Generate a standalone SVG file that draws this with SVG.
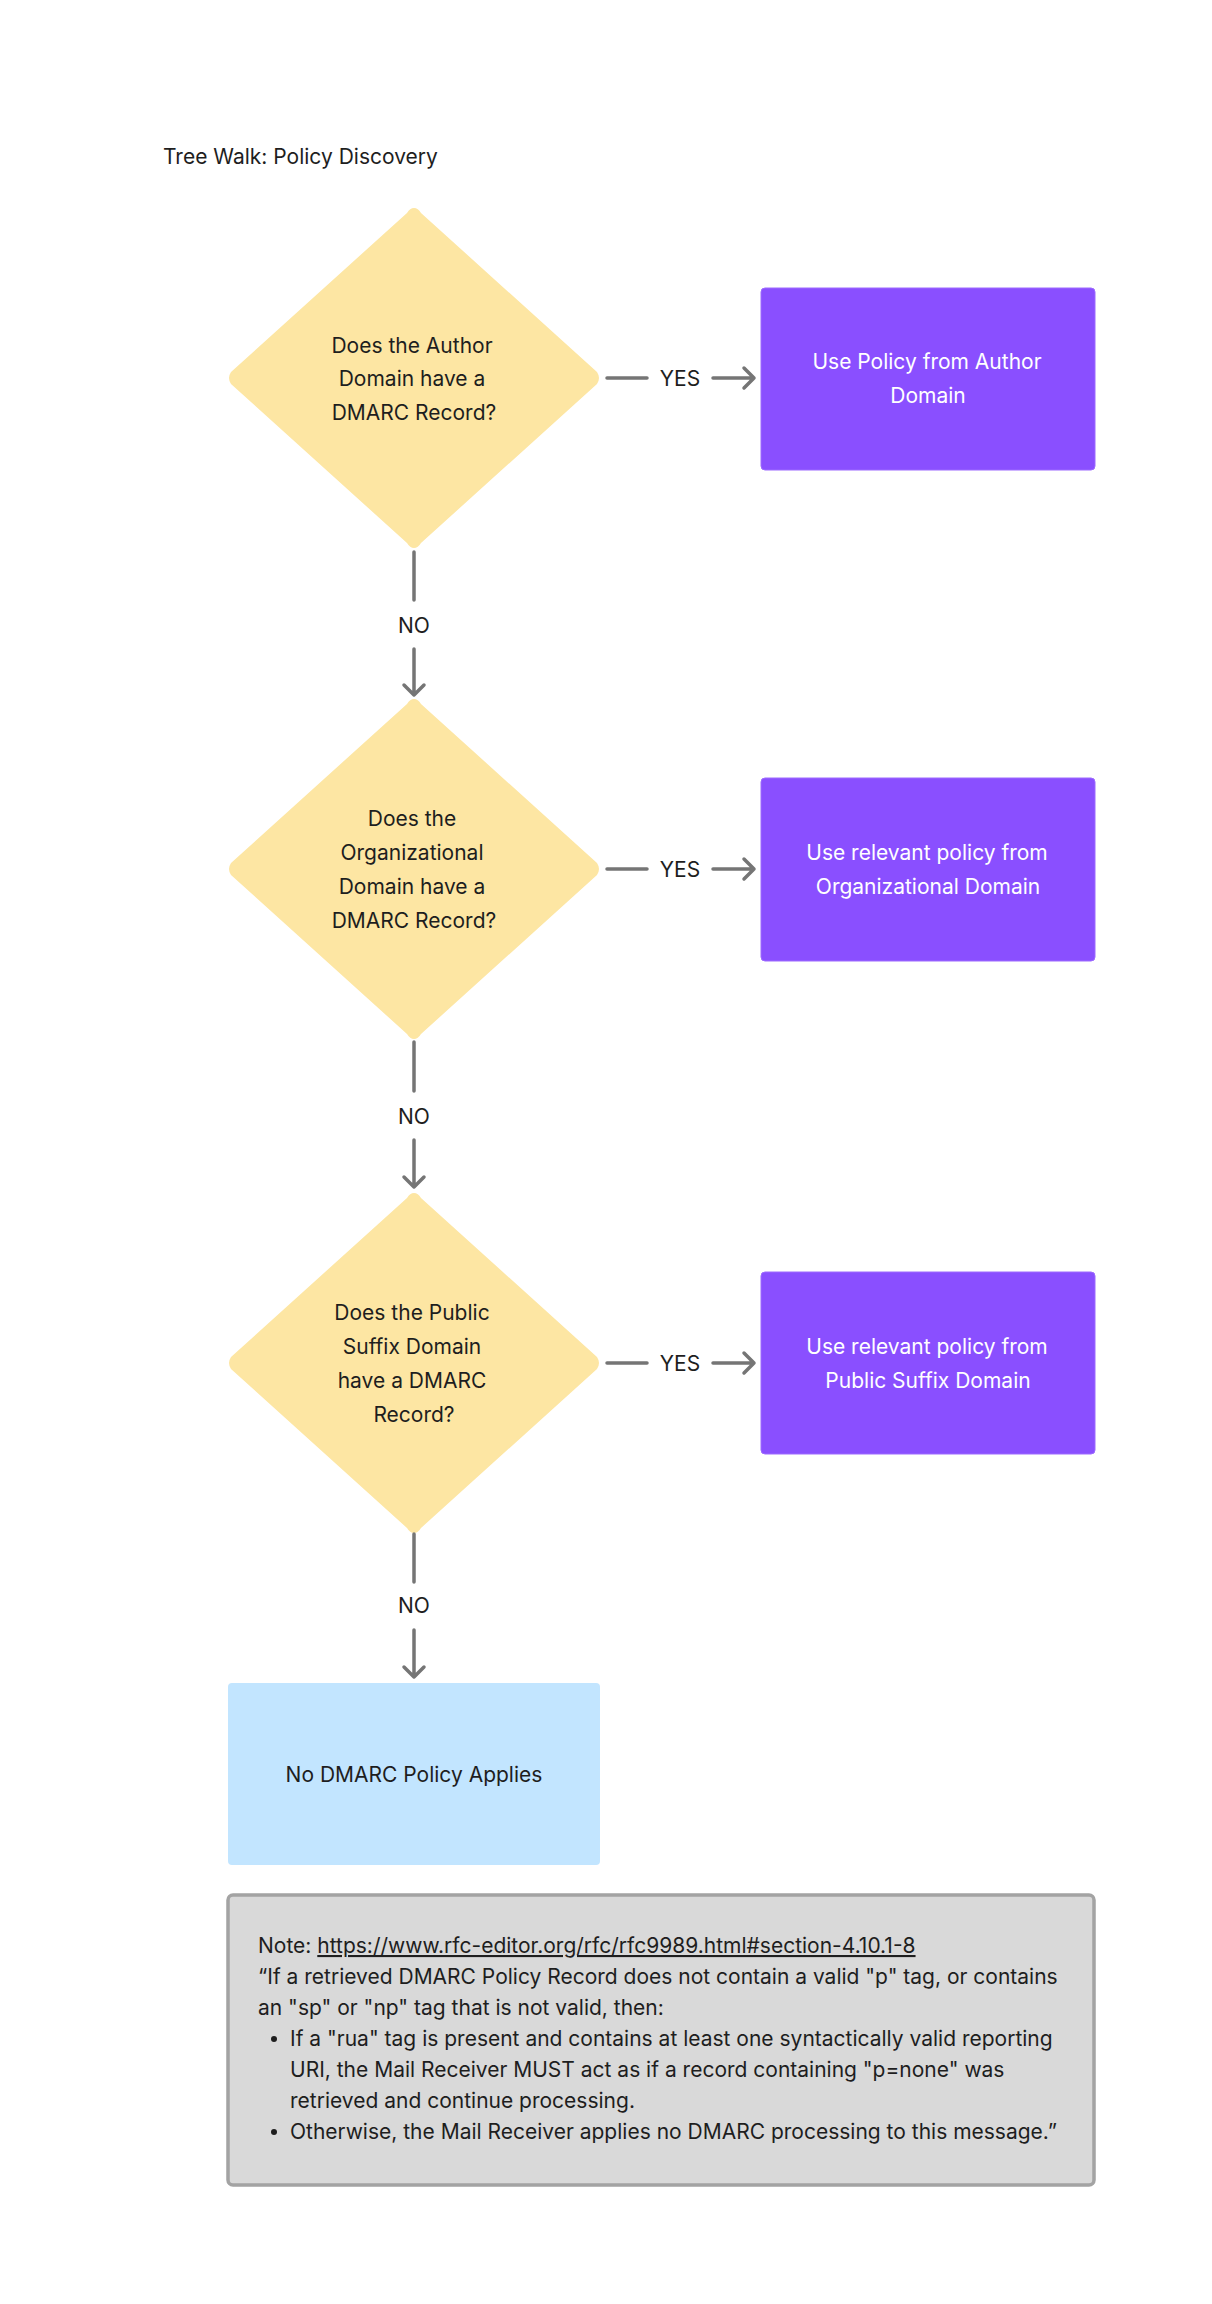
<svg xmlns="http://www.w3.org/2000/svg" width="1212" height="2304" viewBox="0 0 1212 2304">
<style>
text{font-family:Inter,"Noto Sans","Liberation Sans",sans-serif;font-size:21px;fill:#1e1e1e}
.c{text-anchor:middle}
.w{fill:#ffffff}
.d{fill:#FDE6A3}
.p{fill:#8A4FFF;stroke:#9d6bff;stroke-width:1}
.ln{stroke:#757575;stroke-width:3.5;fill:none;stroke-linecap:round;stroke-linejoin:round}
</style>
<rect width="1212" height="2304" fill="#ffffff"/>
<text x="163" y="164">Tree Walk: Policy Discovery</text>

<g id="d1"><path class="d" d="M414 208 Q418 208 421 213 L597 372 Q601 378 597 384 L421 543 Q418 548 414 548 Q410 548 407 543 L231 384 Q227 378 231 372 L407 213 Q410 208 414 208Z"/>
<text class="c" x="412" y="353">Does the Author</text><text class="c" x="412" y="386">Domain have a</text><text class="c" x="414" y="420">DMARC Record?</text></g>

<g id="b1"><rect class="p" x="761" y="288" width="334" height="182" rx="4"/>
<text class="c w" x="927" y="369">Use Policy from Author</text><text class="c w" x="928" y="403">Domain</text></g>

<g id="d2"><path class="d" d="M414 699 Q418 699 421 704 L597 863 Q601 869 597 875 L421 1034 Q418 1039 414 1039 Q410 1039 407 1034 L231 875 Q227 869 231 863 L407 704 Q410 699 414 699Z"/>
<text class="c" x="412" y="826">Does the</text><text class="c" x="412" y="860">Organizational</text><text class="c" x="412" y="894">Domain have a</text><text class="c" x="414" y="928">DMARC Record?</text></g>

<g id="b2"><rect class="p" x="761" y="778" width="334" height="183" rx="4"/>
<text class="c w" x="927" y="860">Use relevant policy from</text><text class="c w" x="928" y="894">Organizational Domain</text></g>

<g id="d3"><path class="d" d="M414 1193 Q418 1193 421 1198 L597 1357 Q601 1363 597 1369 L421 1528 Q418 1533 414 1533 Q410 1533 407 1528 L231 1369 Q227 1363 231 1357 L407 1198 Q410 1193 414 1193Z"/>
<text class="c" x="412" y="1320">Does the Public</text><text class="c" x="412" y="1354">Suffix Domain</text><text class="c" x="412" y="1388">have a DMARC</text><text class="c" x="414" y="1422">Record?</text></g>

<g id="b3"><rect class="p" x="761" y="1272" width="334" height="182" rx="4"/>
<text class="c w" x="927" y="1354">Use relevant policy from</text><text class="c w" x="928" y="1388">Public Suffix Domain</text></g>

<g id="b4"><rect x="228" y="1683" width="372" height="182" rx="4" fill="#C2E5FF"/>
<text class="c" x="414" y="1782">No DMARC Policy Applies</text></g>

<g id="note"><rect x="228" y="1895" width="866" height="290" rx="5" fill="#D9D9D9" stroke="#A3A3A3" stroke-width="3.5"/>
<text x="258" y="1953">Note: <tspan text-decoration="underline">https://www.rfc-editor.org/rfc/rfc9989.html#section-4.10.1-8</tspan></text>
<text x="258" y="1984">“If a retrieved DMARC Policy Record does not contain a valid "p" tag, or contains</text>
<text x="258" y="2015">an "sp" or "np" tag that is not valid, then:</text>
<circle cx="274" cy="2039" r="3" fill="#1e1e1e"/>
<text x="290" y="2046">If a "rua" tag is present and contains at least one syntactically valid reporting</text>
<text x="290" y="2077">URI, the Mail Receiver MUST act as if a record containing "p=none" was</text>
<text x="290" y="2108">retrieved and continue processing.</text>
<circle cx="274" cy="2132" r="3" fill="#1e1e1e"/>
<text x="290" y="2139">Otherwise, the Mail Receiver applies no DMARC processing to this message.”</text>
</g>

<g id="connectors">
<path class="ln" d="M607 378 H647 M713 378 H754 M744 368 L754 378 L744 388"/>
<text class="c" x="680" y="386">YES</text>
<path class="ln" d="M607 869 H647 M713 869 H754 M744 859 L754 869 L744 879"/>
<text class="c" x="680" y="877">YES</text>
<path class="ln" d="M607 1363 H647 M713 1363 H754 M744 1353 L754 1363 L744 1373"/>
<text class="c" x="680" y="1371">YES</text>
<path class="ln" d="M414 552 V600 M414 649 V695 M404 685 L414 695 L424 685"/>
<text class="c" x="414" y="633">NO</text>
<path class="ln" d="M414 1042 V1091 M414 1140 V1187 M404 1177 L414 1187 L424 1177"/>
<text class="c" x="414" y="1124">NO</text>
<path class="ln" d="M414 1534 V1582 M414 1630 V1677 M404 1667 L414 1677 L424 1667"/>
<text class="c" x="414" y="1613">NO</text>
</g>
</svg>
